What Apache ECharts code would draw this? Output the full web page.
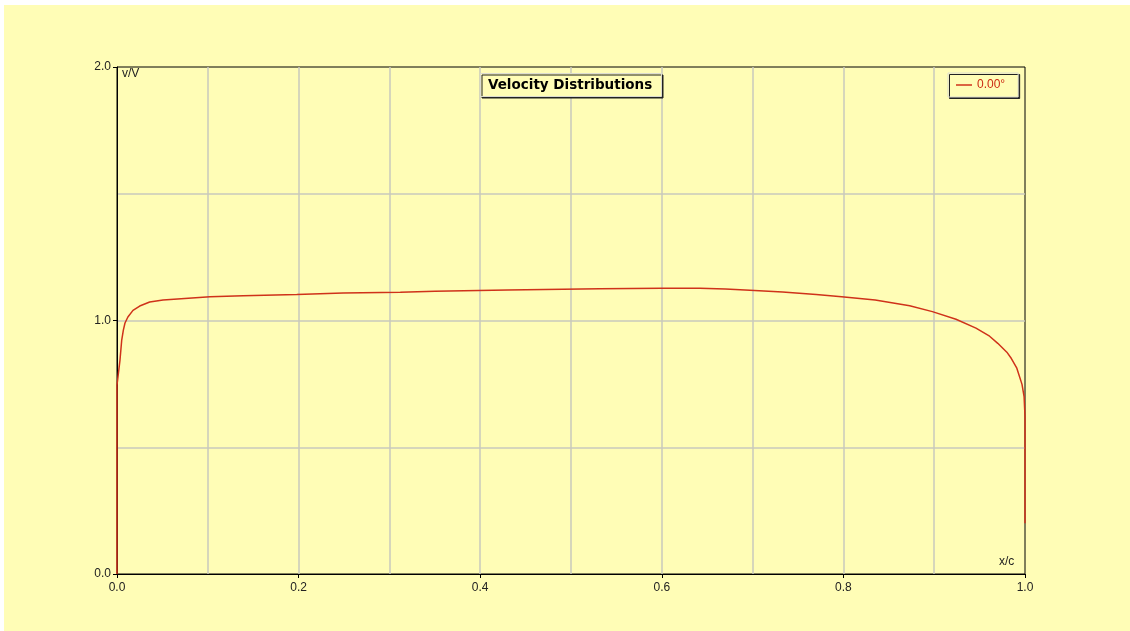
<!DOCTYPE html>
<html>
<head>
<meta charset="utf-8">
<script src="https://cdn.jsdelivr.net/npm/echarts@6/dist/echarts.min.js"></script>
<style>
  body { margin: 0; background: #fff; }
  #chart { position: absolute; left: 4px; top: 5px; width: 1126px; height: 626px; }
</style>
</head>
<body>
<div id="chart"></div>
<script>
// x/c positions along the chord
const xc = [0, 0, 0, 0.0015, 0.0033, 0.0052, 0.007, 0.0088, 0.012, 0.0176, 0.025, 0.036, 0.0507,
  0.1025, 0.139, 0.198, 0.249, 0.312, 0.35, 0.43, 0.532, 0.6, 0.642, 0.67, 0.697, 0.733, 0.77,
  0.798, 0.835, 0.873, 0.898, 0.924, 0.946, 0.961, 0.97, 0.98, 0.985, 0.991, 0.9967, 0.999, 1.0, 1.0]
// v/V values
const vV = [0, 0.56, 0.745, 0.79, 0.844, 0.923, 0.962, 0.99, 1.014, 1.04, 1.057, 1.073, 1.081,
  1.094, 1.098, 1.103, 1.108, 1.111, 1.115, 1.12, 1.125, 1.127, 1.127, 1.124, 1.119, 1.112, 1.103,
  1.094, 1.081, 1.058, 1.035, 1.005, 0.97, 0.938, 0.91, 0.875, 0.85, 0.812, 0.748, 0.7, 0.62, 0.2]
const xLabels = [0, 0.2, 0.4, 0.6, 0.8, 1.0]
const yLabels = [0, 1, 2]
const seriesName = '0.00°'

;(function () {
  let myChart = echarts.init(document.getElementById('chart'))
  const gridColor = '#c9c9bd'
  const labelStyle = {
    fontFamily: 'Liberation Sans',
    fontSize: 12,
    color: '#222',
  }
  const isLabel = (list, v) => list.some((l) => Math.abs(l - v) < 1e-6)
  let options = {
    backgroundColor: '#fffdb6',
    animation: false,
    title: {
      text: 'Velocity Distributions',
      left: 476,
      top: 68,
      padding: [5, 10, 5, 8],
      backgroundColor: '#fffdb6',
      borderColor: '#dcdcd0',
      borderWidth: 1,
      shadowColor: '#222',
      shadowOffsetX: 1.5,
      shadowOffsetY: 1.5,
      textStyle: {
        fontFamily: 'DejaVu Sans',
        fontSize: 13.5,
        fontWeight: 'bold',
        color: '#000',
      },
    },
    legend: {
      data: [seriesName],
      left: 944,
      top: 68,
      padding: [6, 13, 6, 8],
      backgroundColor: '#fffdb6',
      borderColor: '#dcdcd0',
      borderWidth: 1,
      shadowColor: '#222',
      shadowOffsetX: 1.5,
      shadowOffsetY: 1.5,
      icon: 'rect',
      itemWidth: 16,
      itemHeight: 1.5,
      itemGap: 4,
      textStyle: {
        fontFamily: 'Liberation Sans',
        fontSize: 12,
        color: '#cc2a12',
      },
    },
    grid: {
      left: 113,
      top: 62,
      right: 105,
      bottom: 57,
      show: true,
      borderColor: '#000',
      borderWidth: 1,
      backgroundColor: 'transparent',
    },
    xAxis: [
      {
        type: 'value',
        min: 0,
        max: 1,
        interval: 0.1,
        axisLine: { lineStyle: { color: '#000', width: 1 } },
        axisTick: { show: false },
        axisLabel: {
          formatter: (v) => (isLabel(xLabels, v) ? v.toFixed(1) : ''),
          margin: 8,
          ...labelStyle,
        },
        splitLine: {
          showMinLine: false,
          showMaxLine: false,
          lineStyle: { color: gridColor, width: 1.5 },
        },
      },
      {
        // tick marks only at labelled positions
        type: 'value',
        position: 'bottom',
        min: 0,
        max: 1,
        interval: 0.2,
        axisLine: { show: false },
        axisTick: { show: true, length: 4, lineStyle: { color: '#000' } },
        axisLabel: { show: false },
        splitLine: { show: false },
      },
    ],
    yAxis: [
      {
        type: 'value',
        min: 0,
        max: 2,
        interval: 0.5,
        axisLine: { show: true, lineStyle: { color: '#000', width: 1 } },
        axisTick: { show: false },
        axisLabel: {
          formatter: (v) => (isLabel(yLabels, v) ? v.toFixed(1) : ''),
          margin: 6,
          ...labelStyle,
        },
        splitLine: {
          showMinLine: false,
          showMaxLine: false,
          lineStyle: { color: gridColor, width: 1.5 },
        },
      },
      {
        type: 'value',
        position: 'left',
        min: 0,
        max: 2,
        interval: 1,
        axisLine: { show: false },
        axisTick: { show: true, length: 4, lineStyle: { color: '#000' } },
        axisLabel: { show: false },
        splitLine: { show: false },
      },
    ],
    graphic: [
      {
        type: 'text',
        left: 118,
        top: 63,
        style: { text: 'v/V', font: '12px "Liberation Sans"', fill: '#222' },
      },
      {
        type: 'text',
        left: 995,
        top: 551,
        style: { text: 'x/c', font: '12px "Liberation Sans"', fill: '#222' },
      },
    ],
    series: [
      {
        name: seriesName,
        type: 'line',
        data: xc.map((x, i) => [x, vV[i]]),
        symbol: 'none',
        smooth: false,
        color: '#cf321a',
        lineStyle: { width: 1.5, color: '#cf321a' },
        z: 3,
      },
    ],
  }
  myChart.setOption(options)
  window.addEventListener('resize', () => {
    myChart.resize()
  })
})()
</script>
</body>
</html>
